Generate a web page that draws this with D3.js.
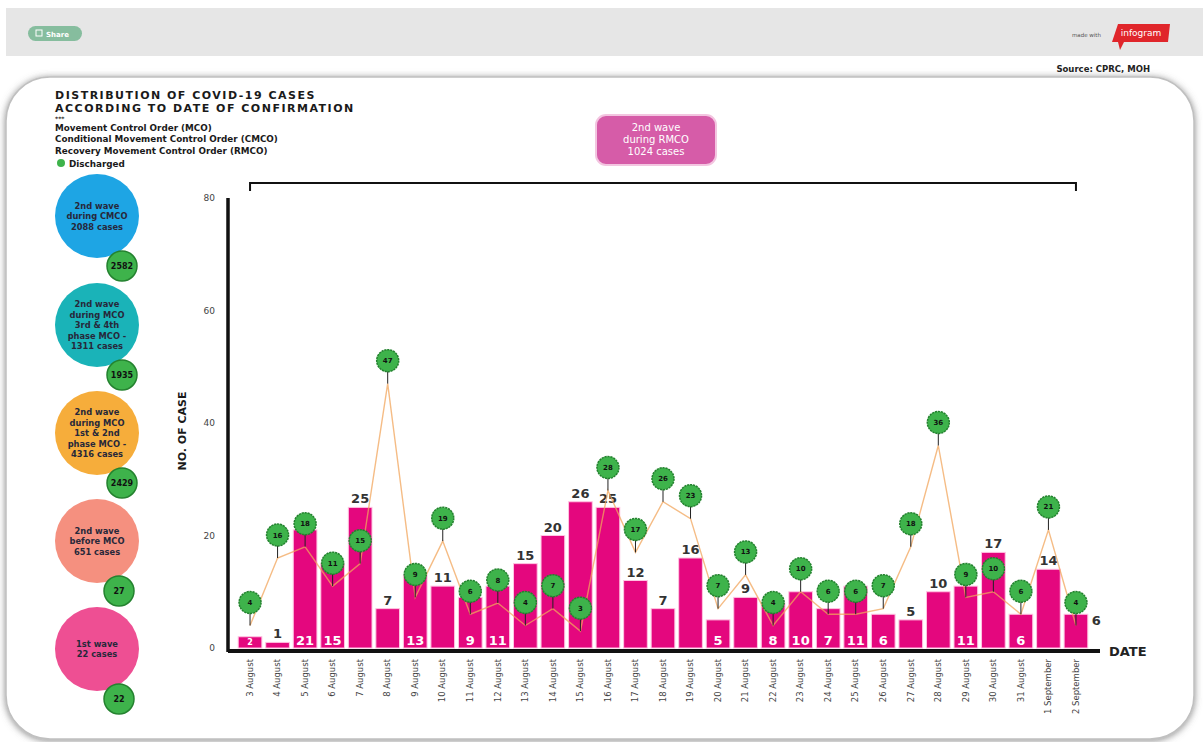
<!DOCTYPE html>
<html>
<head>
<meta charset="utf-8">
<script src="https://cdn.jsdelivr.net/npm/d3@7"></script>
<style>
  body { margin: 0; background: #fff; }
  svg { display: block; font-family: 'DejaVu Sans', sans-serif; }
</style>
</head>
<body>
<svg></svg>
<script>
// data
const dates = ["3 August", "4 August", "5 August", "6 August", "7 August", "8 August", "9 August",
  "10 August", "11 August", "12 August", "13 August", "14 August", "15 August", "16 August",
  "17 August", "18 August", "19 August", "20 August", "21 August", "22 August", "23 August",
  "24 August", "25 August", "26 August", "27 August", "28 August", "29 August", "30 August",
  "31 August", "1 September", "2 September"]
const cases = [2, 1, 21, 15, 25, 7, 13, 11, 9, 11, 15, 20, 26, 25, 12, 7, 16, 5, 9, 8, 10, 7, 11, 6, 5, 10, 11, 17, 6, 14, 6]
const discharged = [4, 16, 18, 11, 15, 47, 9, 19, 6, 8, 4, 7, 3, 28, 17, 26, 23, 7, 13, 4, 10, 6, 6, 7, 18, 36, 9, 10, 6, 21, 4]
// where each bar's value is written: in = inside at the bottom, out = above, side = right of bar
const labelPlace = ["in", "out", "in", "in", "out", "out", "in", "out", "in", "in", "out", "out", "out", "out",
  "out", "out", "out", "in", "out", "in", "in", "in", "in", "in", "out", "out", "in", "out", "in", "out", "side"]
const yTicks = [0, 20, 40, 60, 80]

const titleLines = ["DISTRIBUTION OF COVID-19 CASES", "ACCORDING TO DATE OF CONFIRMATION"]
const waveText = [
  ["2nd wave", "during CMCO", "2088 cases"],
  ["2nd wave", "during MCO", "3rd & 4th", "phase MCO -", "1311 cases"],
  ["2nd wave", "during MCO", "1st & 2nd", "phase MCO -", "4316 cases"],
  ["2nd wave", "before MCO", "651 cases"],
  ["1st wave", "22 cases"]
]
const waveDischarged = [2582, 1935, 2429, 27, 22]
const rmcoText = ["2nd wave", "during RMCO", "1024 cases"]
const legendLines = ["Movement Control Order (MCO)", "Conditional Movement Control Order (CMCO)", "Recovery Movement Control Order (RMCO)"]

const width = 1203, height = 742
const waveColors = ["#1ea5e4", "#1ab3b8", "#f6ad3b", "#f5907f", "#ee4f93"]
const green = "#3eb34b", greenDark = "#24822f", magenta = "#e4077e"

const svg = d3.select('svg').attr('width', width).attr('height', height)

const defs = svg.append('defs')
const shadow = defs.append('filter').attr('id', 'shadow').attr('x', -0.05).attr('y', -0.05).attr('width', 1.1).attr('height', 1.1)
shadow.append('feDropShadow').attr('dx', 0).attr('dy', 1).attr('stdDeviation', 3.5).attr('flood-color', '#666').attr('flood-opacity', 0.75)

// top bar
svg.append('rect').attr('x', 6).attr('y', 8).attr('width', width - 6).attr('height', 48).attr('fill', '#e6e6e6')
svg.append('rect').attr('x', 28).attr('y', 26).attr('width', 54).attr('height', 15).attr('rx', 7.5).attr('fill', '#86bd9e')
svg.append('rect').attr('x', 36).attr('y', 30).attr('width', 6).attr('height', 6).attr('fill', 'none').attr('stroke', '#fff').attr('stroke-width', 1)
svg.append('text').attr('x', 46).attr('y', 36.5).attr('font-size', 7).attr('font-weight', 'bold').attr('fill', '#fff').text('Share')
svg.append('text').attr('x', 1101).attr('y', 37).attr('text-anchor', 'end').attr('font-size', 5.5).attr('fill', '#555').text('made with')
svg.append('path').attr('d', 'M1118,24 L1170,24 L1168,42 L1124,42 L1120,50 L1118,42 L1112,42 Z').attr('fill', '#e0262b')
svg.append('text').attr('x', 1141).attr('y', 36).attr('text-anchor', 'middle').attr('font-size', 9).attr('fill', '#fff').text('infogram')

svg.append('text').attr('x', 1150).attr('y', 72).attr('text-anchor', 'end').attr('font-size', 8.5).attr('font-weight', 'bold').attr('fill', '#222').text('Source: CPRC, MOH')

// card
svg.append('rect').attr('x', 6).attr('y', 77).attr('width', 1188).attr('height', 662).attr('rx', 44)
  .attr('fill', '#fff').attr('stroke', '#c0c0c0').attr('stroke-width', 1.5).attr('filter', 'url(#shadow)')

// title and legend
const head = svg.append('g').attr('fill', '#1a1a1a').attr('font-weight', 'bold')
titleLines.forEach((t, i) => {
  head.append('text').attr('x', 55).attr('y', 98.5 + i * 13).attr('font-size', 11).attr('letter-spacing', 1.5).text(t)
})
head.append('text').attr('x', 55).attr('y', 120.5).attr('font-size', 6).text('***')
legendLines.forEach((t, i) => {
  head.append('text').attr('x', 55).attr('y', 131 + i * 11.3).attr('font-size', 8.8).text(t)
})
svg.append('circle').attr('cx', 61).attr('cy', 163).attr('r', 4).attr('fill', green)
head.append('text').attr('x', 69).attr('y', 166.5).attr('font-size', 8.8).text('Discharged')

// wave bubbles
const waveCy = [216, 325, 433, 541, 649]
waveText.forEach((lines, i) => {
  const g = svg.append('g')
  g.append('circle').attr('cx', 97).attr('cy', waveCy[i]).attr('r', 42).attr('fill', waveColors[i])
  const lh = 10.5
  lines.forEach((t, j) => {
    g.append('text').attr('x', 97).attr('y', waveCy[i] - (lines.length - 1) * lh / 2 + j * lh + 3)
      .attr('text-anchor', 'middle').attr('font-size', 8.3).attr('font-weight', 'bold').attr('fill', '#27283a').text(t)
  })
  const gx = i < 3 ? 122 : 119, gy = waveCy[i] + 50
  g.append('circle').attr('cx', gx).attr('cy', gy).attr('r', 15).attr('fill', green).attr('stroke', greenDark).attr('stroke-width', 1.5)
  g.append('text').attr('x', gx).attr('y', gy + 3).attr('text-anchor', 'middle').attr('font-size', 8)
    .attr('font-weight', 'bold').attr('fill', '#111').text(waveDischarged[i])
})

// plot
const x = d3.scaleBand().domain(dates).range([236, 1090]).paddingInner(0.14).paddingOuter(0.08)
const y = d3.scaleLinear().domain([0, 80]).range([648, 198])
const bw = x.bandwidth()
const cx = d => x(d) + bw / 2
const axisX = 228

// y axis
const yAxis = svg.append('g').attr('transform', `translate(${axisX},0)`)
  .call(d3.axisLeft(y).tickValues(yTicks).tickSize(0).tickPadding(13))
yAxis.select('.domain').remove()
yAxis.selectAll('text').attr('font-size', 9).attr('fill', '#444').attr('font-family', 'DejaVu Sans, sans-serif')
svg.append('line').attr('x1', axisX).attr('x2', axisX).attr('y1', 198).attr('y2', 652).attr('stroke', '#111').attr('stroke-width', 3.5)

svg.append('text').attr('transform', `translate(186,${y(40) + 8}) rotate(-90)`).attr('text-anchor', 'middle')
  .attr('font-size', 11).attr('font-weight', 'bold').attr('fill', '#1a1a1a').text('NO. OF CASE')

// bars
svg.append('g').selectAll('rect').data(dates).join('rect')
  .attr('x', d => x(d)).attr('width', bw)
  .attr('y', (d, i) => y(cases[i])).attr('height', (d, i) => y(0) - y(cases[i]))
  .attr('fill', magenta).attr('stroke', '#ffc4e2').attr('stroke-width', 1)

// x axis
const xAxis = svg.append('g').attr('transform', `translate(0,${y(0) + 3})`)
  .call(d3.axisBottom(x).tickSize(0))
xAxis.select('.domain').remove()
xAxis.selectAll('text').attr('transform', 'rotate(-90)').attr('text-anchor', 'end')
  .attr('x', -8).attr('y', 0).attr('dy', '0.32em').attr('font-size', 8.5).attr('fill', '#444')
  .attr('font-family', 'DejaVu Sans, sans-serif')
svg.append('line').attr('x1', axisX).attr('x2', 1100).attr('y1', y(0) + 3).attr('y2', y(0) + 3).attr('stroke', '#111').attr('stroke-width', 4)
svg.append('text').attr('x', 1109).attr('y', y(0) + 8).attr('font-size', 13).attr('font-weight', 'bold').attr('fill', '#222').text('DATE')

// bar value labels
svg.append('g').selectAll('text').data(dates).join('text')
  .attr('x', (d, i) => labelPlace[i] === 'side' ? x(d) + bw + 4 : cx(d))
  .attr('y', (d, i) => labelPlace[i] === 'in' ? y(0) - 3 : labelPlace[i] === 'side' ? y(cases[i]) + 11 : y(cases[i]) - 4)
  .attr('text-anchor', (d, i) => labelPlace[i] === 'side' ? 'start' : 'middle')
  .attr('font-size', (d, i) => cases[i] < 3 && labelPlace[i] === 'in' ? 8 : 13)
  .attr('font-weight', 'bold')
  .attr('fill', (d, i) => labelPlace[i] === 'in' ? '#fff' : '#333')
  .text((d, i) => cases[i])

// discharged line
const line = d3.line().x(d => cx(d)).y((d, i) => y(discharged[i]))
svg.append('path').datum(dates).attr('d', line).attr('fill', 'none')
  .attr('stroke', '#f2a65c').attr('stroke-opacity', 0.75).attr('stroke-width', 1.4)

const marks = svg.append('g').selectAll('g').data(dates).join('g')
  .attr('transform', (d, i) => `translate(${cx(d)},${y(discharged[i])})`)
marks.append('line').attr('y1', 0).attr('y2', -13).attr('stroke', '#222').attr('stroke-width', 1)
marks.append('circle').attr('cy', -23).attr('r', 11).attr('fill', green)
  .attr('stroke', greenDark).attr('stroke-width', 1.5).attr('stroke-dasharray', '2.2,0.8')
marks.append('text').attr('y', -20.5).attr('text-anchor', 'middle').attr('font-size', 7)
  .attr('font-weight', 'bold').attr('fill', '#111').text((d, i) => discharged[i])

// RMCO bracket and box
const bx0 = cx(dates[0]), bx1 = cx(dates[dates.length - 1])
svg.append('path').attr('d', `M${bx0},191 V183 H${bx1} V191`).attr('fill', 'none').attr('stroke', '#111').attr('stroke-width', 2)
svg.append('rect').attr('x', 596).attr('y', 115).attr('width', 120).attr('height', 50).attr('rx', 10)
  .attr('fill', '#d65ca8').attr('stroke', '#f3c5e0').attr('stroke-width', 2)
rmcoText.forEach((t, i) => {
  svg.append('text').attr('x', 656).attr('y', 131 + i * 12).attr('text-anchor', 'middle')
    .attr('font-size', 10).attr('fill', '#fff').text(t)
})
</script>
</body>
</html>
